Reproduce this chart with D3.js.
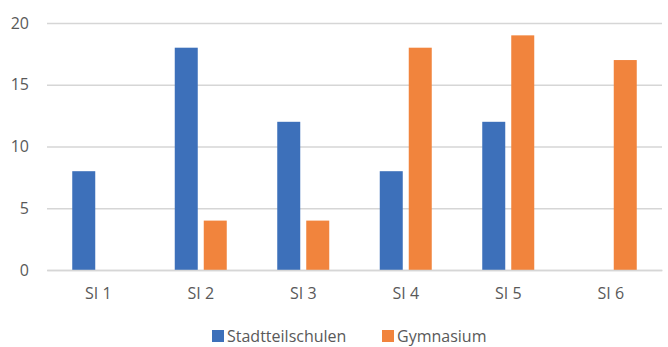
<!DOCTYPE html>
<html>
<head>
<meta charset="utf-8">
<script src="https://cdn.jsdelivr.net/npm/d3@7"></script>
<style>
  html, body { margin: 0; padding: 0; background: #fff; }
  svg text { font-family: "Open Sans", "Liberation Sans", sans-serif; fill: #595959; }
</style>
</head>
<body>
<svg id="chart" width="668" height="347"></svg>
<script>
// Number of students per school level and school type
const categories = ["SI 1", "SI 2", "SI 3", "SI 4", "SI 5", "SI 6"];
const seriesNames = ["Stadtteilschulen", "Gymnasium"];
const stadtteilschulen = [8, 18, 12, 8, 12, 0];
const gymnasium = [0, 4, 4, 18, 19, 17];
const yTicks = [0, 5, 10, 15, 20];
const colors = ["#3D70BA", "#F1843D"];

const svg = d3.select("#chart");
const margin = { left: 47, right: 6, top: 23, bottom: 77 };
const width = 668, height = 347;

const x = d3.scaleBand()
  .domain(categories)
  .range([margin.left, width - margin.right])
  .paddingInner(0).paddingOuter(0);

const y = d3.scaleLinear()
  .domain([0, 20])
  .range([height - margin.bottom, margin.top]);

const barW = 23, barGap = 6;
const xSub = d3.scaleOrdinal()
  .domain(seriesNames)
  .range([-barGap / 2 - barW, barGap / 2]);

// gridlines
const yAxis = d3.axisLeft(y).tickValues(yTicks)
  .tickSize(-(width - margin.left - margin.right)).tickPadding(18).tickFormat(d3.format("d"));
const gy = svg.append("g").attr("transform", `translate(${margin.left},0)`).call(yAxis);
gy.select(".domain").remove();
gy.selectAll(".tick line").attr("stroke", "#d6d6d6").attr("stroke-width", 1.3);
gy.selectAll(".tick text").attr("font-size", 16).attr("fill", "#595959");

// bars
const rows = categories.map((c, i) => ({ cat: c, values: [stadtteilschulen[i], gymnasium[i]] }));
const groups = svg.append("g").selectAll("g").data(rows).join("g")
  .attr("transform", d => `translate(${x(d.cat) + x.bandwidth() / 2},0)`);
groups.selectAll("rect")
  .data(d => d.values.map((v, j) => ({ name: seriesNames[j], value: v, j })))
  .join("rect")
  .filter(d => d.value > 0)
  .attr("x", d => xSub(d.name))
  .attr("width", barW)
  .attr("y", d => y(d.value))
  .attr("height", d => y(0) - y(d.value))
  .attr("fill", d => colors[d.j]);

// x axis baseline and labels
const xAxis = d3.axisBottom(x).tickSize(0).tickPadding(18);
const gx = svg.append("g").attr("transform", `translate(0,${y(0)})`).call(xAxis);
gx.select(".domain").attr("stroke", "#d6d6d6").attr("stroke-width", 1.3);
gx.selectAll(".tick text").attr("font-size", 16).attr("fill", "#595959");

// legend
const legend = svg.append("g").attr("transform", "translate(212,330)");
const legendX = [0, 170];
seriesNames.forEach((name, i) => {
  const g = legend.append("g").attr("transform", `translate(${legendX[i]},0)`);
  g.append("rect").attr("width", 12).attr("height", 12).attr("fill", colors[i]);
  g.append("text").attr("x", 15).attr("y", 11.5).attr("font-size", 16).text(name);
});
</script>
</body>
</html>
